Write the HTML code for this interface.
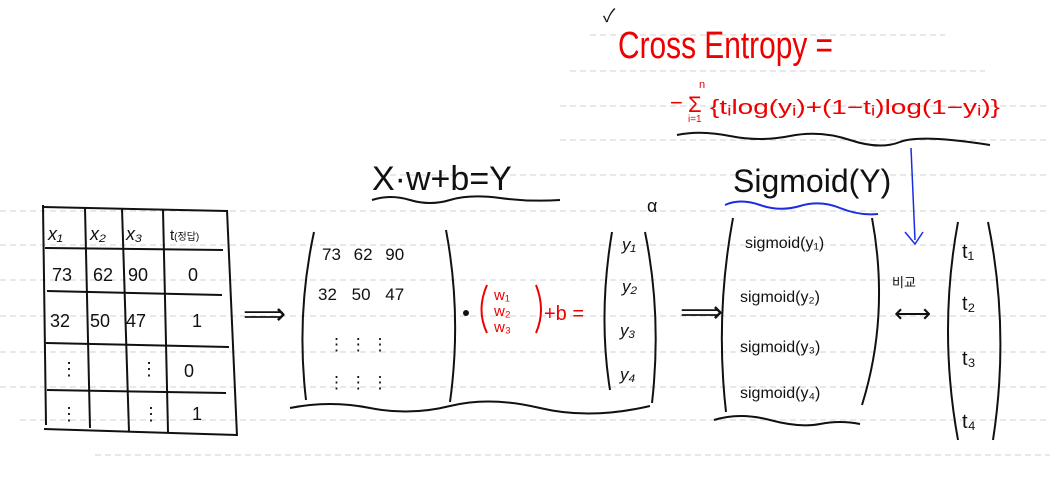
<!DOCTYPE html>
<html><head><meta charset="utf-8"><style>
html,body{margin:0;padding:0;background:#fff}
svg{display:block}
text{font-family:"Liberation Sans","Noto Sans CJK KR",sans-serif}
</style></head><body>
<svg width="1050" height="490" viewBox="0 0 1050 490" xmlns="http://www.w3.org/2000/svg">
<g stroke="#d0d0d0" stroke-width="1" stroke-dasharray="6,4">
<line x1="590" y1="35" x2="945" y2="35"/>
<line x1="570" y1="71" x2="985" y2="71"/>
<line x1="560" y1="106" x2="1050" y2="106"/>
<line x1="560" y1="140" x2="1050" y2="140"/>
<line x1="380" y1="175" x2="1050" y2="175"/>
<line x1="0" y1="211" x2="1050" y2="211"/>
<line x1="0" y1="245" x2="1050" y2="245"/>
<line x1="0" y1="280" x2="1050" y2="280"/>
<line x1="0" y1="316" x2="1050" y2="316"/>
<line x1="0" y1="352" x2="1050" y2="352"/>
<line x1="0" y1="387" x2="1050" y2="387"/>
<line x1="20" y1="420" x2="1050" y2="420"/>
<line x1="95" y1="455" x2="1050" y2="455"/>
</g>
<g stroke="#111" stroke-width="2" fill="none">
<path d="M43 205 L46 425"/><path d="M85 208 L90 428"/><path d="M122 208 L129 432"/><path d="M163 210 L168 432"/><path d="M227 210 L237 436"/>
<path d="M43 207 L227 211"/><path d="M45 248 L223 250"/><path d="M47 291 L222 295"/><path d="M46 343 L229 347"/><path d="M47 390 L226 393"/><path d="M44 429 L237 435"/>
</g>
<g font-size="18" fill="#111">
<text x="48" y="240" font-style="italic">x₁</text><text x="90" y="240" font-style="italic">x₂</text><text x="126" y="240" font-style="italic">x₃</text>
<text x="170" y="240" font-size="15">t<tspan font-size="10">(정답)</tspan></text>
<text x="52" y="281">73</text><text x="93" y="281">62</text><text x="128" y="281">90</text><text x="188" y="281">0</text>
<text x="50" y="327">32</text><text x="90" y="327">50</text><text x="126" y="327">47</text><text x="192" y="327">1</text>
<text x="60" y="375">⋮</text><text x="140" y="375">⋮</text><text x="184" y="377">0</text>
<text x="60" y="420">⋮</text><text x="142" y="420">⋮</text><text x="192" y="420">1</text>
</g>
<text x="243" y="324" font-size="30" fill="#111">⟹</text>
<g stroke="#111" stroke-width="2" fill="none">
<path d="M314 232 Q296 315 306 400"/><path d="M446 230 Q462 315 450 402"/>
<path d="M290 408 Q330 400 370 408 T450 406 T540 408 T650 406"/>
</g>
<g font-size="17" fill="#111">
<text x="322" y="260" word-spacing="8">73 62 90</text><text x="318" y="300" word-spacing="10">32 50 47</text>
<text x="328" y="350">⋮    ⋮    ⋮</text><text x="328" y="388">⋮    ⋮    ⋮</text>
</g>
<text x="372" y="190" font-size="34" fill="#111">X·w+b=Y</text>
<path d="M372 200 Q390 194 410 200 T450 200 T500 198 T560 200" stroke="#111" stroke-width="2" fill="none"/>
<circle cx="466" cy="313" r="3" fill="#111"/>
<g fill="#e00" stroke="#e00">
<path d="M487 285 Q476 310 487 333" stroke-width="2" fill="none"/><path d="M536 285 Q546 310 536 333" stroke-width="2" fill="none"/>
<text x="494" y="300" font-size="15" stroke="none">w₁</text><text x="494" y="316" font-size="15" stroke="none">w₂</text><text x="494" y="332" font-size="15" stroke="none">w₃</text>
<text x="544" y="320" font-size="20" stroke="none">+b =</text>
</g>
<g stroke="#111" stroke-width="2" fill="none">
<path d="M612 232 Q598 315 610 390"/><path d="M645 232 Q662 315 652 403"/>
</g>
<g font-size="17" fill="#111" font-style="italic">
<text x="622" y="250">y₁</text><text x="622" y="292">y₂</text><text x="620" y="336">y₃</text><text x="620" y="380">y₄</text>
</g>
<text x="680" y="322" font-size="30" fill="#111">⟹</text>
<text x="647" y="212" font-size="18" fill="#111">α</text>
<text x="733" y="192" font-size="32" fill="#111">Sigmoid(Y)</text>
<path d="M725 205 Q740 198 760 205 T800 206 T840 208 T878 214" stroke="#1a2ee0" stroke-width="2" fill="none"/>
<g stroke="#111" stroke-width="2" fill="none">
<path d="M733 218 Q715 315 726 412"/><path d="M872 218 Q890 315 862 405"/>
<path d="M714 420 Q740 412 770 420 T820 424 T860 424"/>
</g>
<g font-size="16" fill="#111">
<text x="745" y="248">sigmoid(y₁)</text><text x="740" y="302">sigmoid(y₂)</text><text x="740" y="352">sigmoid(y₃)</text><text x="740" y="398">sigmoid(y₄)</text>
</g>
<g>
<path d="M911 148 L915 240" stroke="#1a2ee0" stroke-width="1.5" fill="none"/>
<path d="M905 232 L915 244 L923 232" stroke="#1a2ee0" stroke-width="1.5" fill="none"/>
<text x="892" y="287" font-size="13" fill="#111">비교</text>
<text x="894" y="322" font-size="26" fill="#111">⟷</text>
</g>
<g stroke="#111" stroke-width="2" fill="none">
<path d="M958 222 Q938 330 958 440"/><path d="M988 222 Q1010 330 993 440"/>
</g>
<g font-size="20" fill="#111">
<text x="962" y="258">t₁</text><text x="962" y="310">t₂</text><text x="962" y="365">t₃</text><text x="962" y="428">t₄</text>
</g>
<text x="603" y="22" font-size="18" fill="#111">✓</text>
<text x="618" y="58" font-size="38" fill="#e00" textLength="215" lengthAdjust="spacingAndGlyphs">Cross Entropy =</text>
<g fill="#e00">
<text x="670" y="110" font-size="22">−</text>
<text x="688" y="112" font-size="22">Σ</text>
<text x="699" y="88" font-size="11">n</text>
<text x="688" y="122" font-size="10">i=1</text>
<text x="710" y="114" font-size="20" textLength="290" lengthAdjust="spacingAndGlyphs">{tᵢlog(yᵢ)+(1−tᵢ)log(1−yᵢ)}</text>
</g>
<path d="M677 135 Q700 130 730 136 T790 136 T850 140 T900 142 T990 145" stroke="#111" stroke-width="2" fill="none"/>
</svg>
</body></html>
